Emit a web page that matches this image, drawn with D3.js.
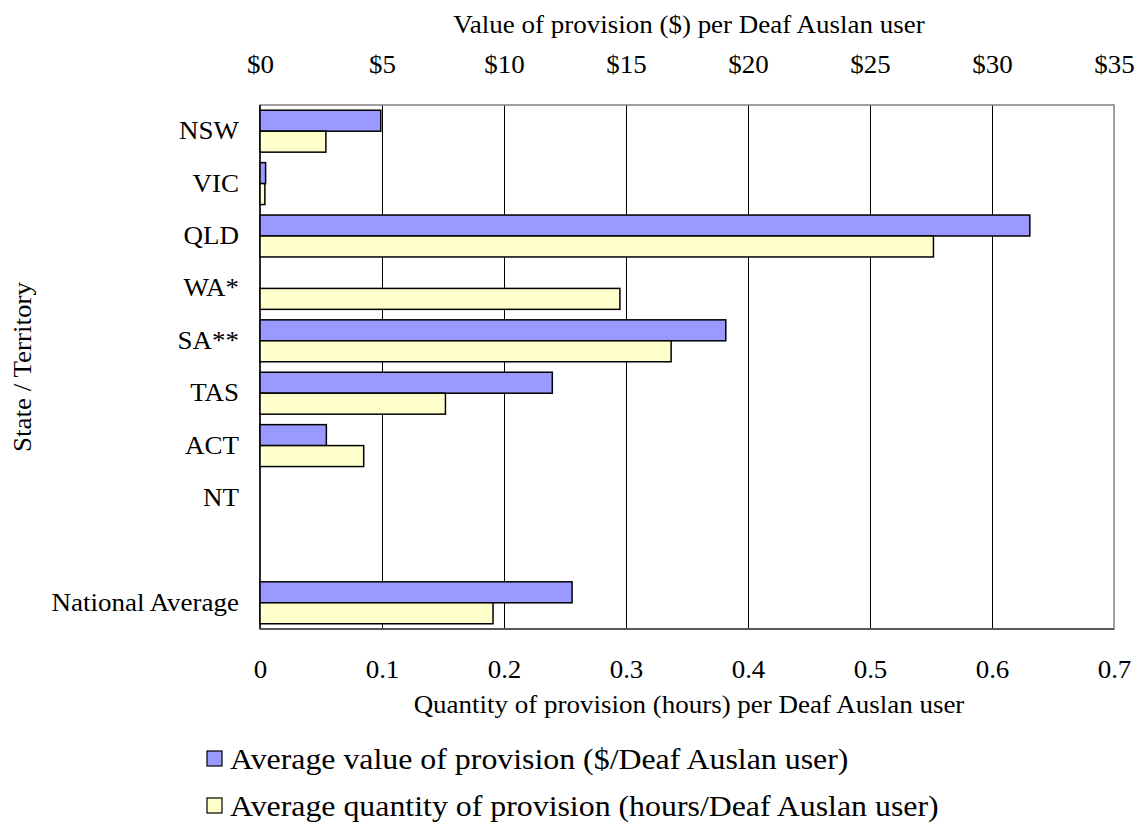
<!DOCTYPE html>
<html>
<head>
<meta charset="utf-8">
<script src="https://cdn.jsdelivr.net/npm/d3@7"></script>
<style>
  html, body { margin: 0; padding: 0; background: #fff; }
  svg text { font-family: "Liberation Serif", "Times New Roman", serif; fill: #000; }
</style>
</head>
<body>
<svg id="chart" width="1143" height="826"></svg>
<script>
// ---- Data ----
const categories = ["NSW", "VIC", "QLD", "WA*", "SA**", "TAS", "ACT", "NT", "", "National Average"];
const valueDollars = [4.95, 0.23, 31.55, null, 19.09, 11.98, 2.72, null, null, 12.79];
const quantityHours = [0.054, 0.004, 0.552, 0.295, 0.337, 0.152, 0.085, null, null, 0.191];
const dollarTicks = [0, 5, 10, 15, 20, 25, 30, 35];
const hourTicks = [0, 0.1, 0.2, 0.3, 0.4, 0.5, 0.6, 0.7];
const seriesNames = ["Average value of provision ($/Deaf Auslan user)",
                     "Average quantity of provision (hours/Deaf Auslan user)"];
const seriesColors = ["#9999ff", "#ffffcc"];

// ---- Layout ----
const L = 260, R = 1114, T = 105, B = 629;
const FS = 25, STRETCH = 1.08;

const svg = d3.select("#chart");

const xH = d3.scaleLinear().domain([0, 0.7]).range([L, R]);
const xD = d3.scaleLinear().domain([0, 35]).range([L, R]);
const y = d3.scaleBand().domain(categories).range([T, B]).paddingInner(0.2).paddingOuter(0.1);
const ySub = d3.scaleBand().domain(["value", "hours"]).range([0, y.bandwidth()]);

// gridlines
svg.append("g").selectAll("line")
  .data(hourTicks.filter(d => d > 0 && d < 0.7))
  .join("line")
  .attr("x1", d => xH(d)).attr("x2", d => xH(d))
  .attr("y1", T).attr("y2", B)
  .attr("stroke", "#000").attr("stroke-width", 1).attr("shape-rendering", "crispEdges");

// frame
svg.append("rect").attr("x", L).attr("y", T).attr("width", R - L).attr("height", B - T)
  .attr("fill", "none").attr("stroke", "#808080").attr("stroke-width", 1.5);
svg.append("line").attr("x1", L).attr("x2", L).attr("y1", T).attr("y2", B)
  .attr("stroke", "#000").attr("stroke-width", 1.5);
svg.append("line").attr("x1", L).attr("x2", R).attr("y1", B).attr("y2", B)
  .attr("stroke", "#404040").attr("stroke-width", 1.5);

// bars
const rows = categories.map((c, i) => ({ c, v: valueDollars[i], h: quantityHours[i] }));
const g = svg.append("g");
g.selectAll("rect.v").data(rows.filter(d => d.v != null)).join("rect")
  .attr("class", "v")
  .attr("x", xD(0)).attr("y", d => y(d.c) + ySub("value"))
  .attr("width", d => xD(d.v) - xD(0)).attr("height", ySub.bandwidth())
  .attr("fill", seriesColors[0]).attr("stroke", "#000").attr("stroke-width", 1.5);
g.selectAll("rect.h").data(rows.filter(d => d.h != null)).join("rect")
  .attr("class", "h")
  .attr("x", xH(0)).attr("y", d => y(d.c) + ySub("hours"))
  .attr("width", d => xH(d.h) - xH(0)).attr("height", ySub.bandwidth())
  .attr("fill", seriesColors[1]).attr("stroke", "#000").attr("stroke-width", 1.5);

function styleTicks(sel) {
  sel.select(".domain").remove();
  sel.selectAll(".tick line").remove();
  sel.selectAll("text").attr("font-size", FS).attr("fill", "#000")
    .each(function() {
      const t = d3.select(this);
      const x = +t.attr("x") || 0;
      t.attr("x", x / STRETCH).attr("transform", `scale(${STRETCH},1)`);
    });
}

// top axis ($)
svg.append("g").attr("transform", `translate(0,${T})`)
  .call(d3.axisTop(xD).tickValues(dollarTicks).tickFormat(d => "$" + d).tickSize(0).tickPadding(32))
  .call(styleTicks);

// bottom axis (hours)
svg.append("g").attr("transform", `translate(0,${B})`)
  .call(d3.axisBottom(xH).tickValues(hourTicks).tickFormat(d => d === 0 ? "0" : d3.format(".1f")(d)).tickSize(0).tickPadding(31))
  .call(styleTicks);

// left axis (categories)
svg.append("g").attr("transform", `translate(${L},0)`)
  .call(d3.axisLeft(y).tickSize(0).tickPadding(21))
  .call(styleTicks);

// titles
function stretchedText(x, yy, txt, rot, size, anchor) {
  svg.append("text")
    .attr("transform", `translate(${x},${yy}) rotate(${rot || 0}) scale(${STRETCH},1)`)
    .attr("text-anchor", anchor || "middle")
    .attr("font-size", size || FS)
    .text(txt);
}
stretchedText((L + R) / 2 + 2, 33, "Value of provision ($) per Deaf Auslan user");
stretchedText((L + R) / 2 + 2, 713, "Quantity of provision (hours) per Deaf Auslan user");
stretchedText(31, (T + B) / 2, "State / Territory", -90);

// legend
const legY = [769, 816];
seriesNames.forEach((name, i) => {
  svg.append("rect").attr("x", 207).attr("y", legY[i] - 18).attr("width", 15).attr("height", 15)
    .attr("fill", seriesColors[i]).attr("stroke", "#000").attr("stroke-width", 1.2);
  stretchedText(230, legY[i], name, 0, 29.5, "start");
});
</script>
</body>
</html>
